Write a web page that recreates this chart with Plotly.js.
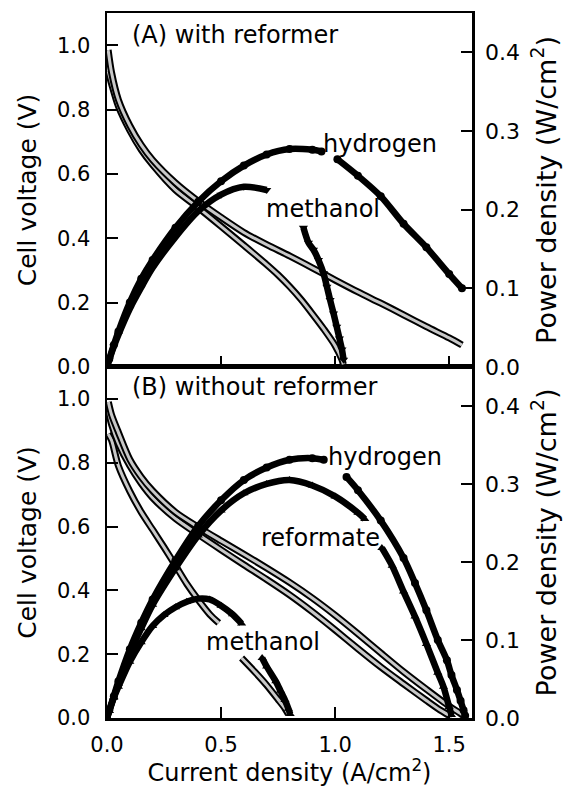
<!DOCTYPE html>
<html><head><meta charset="utf-8">
<script src="https://cdn.plot.ly/plotly-3.0.1.min.js"></script>
<style>html,body{margin:0;padding:0;background:#fff}#chart{width:574px;height:787px}</style>
</head><body><div id="chart"></div>
<script>
// ---------- Panel A: with reformer ----------
const A_h2_V_x = [0.005, 0.02, 0.05, 0.1, 0.15, 0.2, 0.3, 0.4, 0.5, 0.6, 0.7, 0.8, 0.9, 1.0, 1.1, 1.2, 1.3, 1.4, 1.5, 1.556];
const A_h2_V_y = [0.985, 0.915, 0.83, 0.75, 0.69, 0.643, 0.572, 0.515, 0.465, 0.418, 0.38, 0.345, 0.308, 0.27, 0.233, 0.198, 0.162, 0.125, 0.09, 0.068];

const A_me_V_x = [0.005, 0.02, 0.05, 0.1, 0.15, 0.2, 0.3, 0.4, 0.5, 0.6, 0.7, 0.75, 0.8, 0.85, 0.9, 0.95, 1.0, 1.03, 1.036];
const A_me_V_y = [0.92, 0.88, 0.81, 0.735, 0.675, 0.628, 0.55, 0.495, 0.437, 0.378, 0.318, 0.286, 0.25, 0.21, 0.165, 0.118, 0.066, 0.022, 0.008];

const A_h2_P_x = [0, 0.01, 0.03, 0.05, 0.1, 0.15, 0.2, 0.3, 0.4, 0.5, 0.6, 0.7, 0.8, 0.9, 0.94, null, 1.01, 1.1, 1.2, 1.3, 1.4, 1.5, 1.556];
const A_h2_P_y = [0, 0.01, 0.028, 0.045, 0.082, 0.112, 0.136, 0.177, 0.21, 0.236, 0.256, 0.27, 0.277, 0.276, 0.274, null, 0.264, 0.243, 0.217, 0.182, 0.152, 0.118, 0.10];

const A_me_P_x = [0, 0.01, 0.03, 0.05, 0.1, 0.15, 0.2, 0.3, 0.4, 0.5, 0.6, 0.7, null, 0.861, 0.883, 0.905, 0.927, 0.949, 0.964, 0.978, 0.993, 1.007, 1.019, 1.03, 1.037];
const A_me_P_y = [0, 0.009, 0.026, 0.041, 0.074, 0.101, 0.126, 0.165, 0.198, 0.219, 0.229, 0.225, null, 0.177, 0.158, 0.149, 0.136, 0.119, 0.102, 0.085, 0.068, 0.051, 0.036, 0.022, 0.009];

// ---------- Panel B: without reformer ----------
const B_h2_V_x = [0.006, 0.02, 0.05, 0.1, 0.15, 0.2, 0.3, 0.4, 0.5, 0.6, 0.7, 0.8, 0.9, 1.0, 1.1, 1.2, 1.3, 1.4, 1.5, 1.55, 1.57];
const B_h2_V_y = [0.99, 0.95, 0.895, 0.81, 0.755, 0.712, 0.645, 0.598, 0.555, 0.513, 0.47, 0.425, 0.376, 0.322, 0.264, 0.204, 0.145, 0.09, 0.037, 0.014, 0.003];

const B_rf_V_x = [0.006, 0.02, 0.05, 0.1, 0.15, 0.2, 0.3, 0.4, 0.5, 0.6, 0.7, 0.8, 0.9, 1.0, 1.1, 1.2, 1.3, 1.4, 1.46, 1.5, 1.51];
const B_rf_V_y = [0.96, 0.92, 0.86, 0.79, 0.735, 0.69, 0.625, 0.575, 0.527, 0.48, 0.434, 0.386, 0.333, 0.276, 0.217, 0.16, 0.107, 0.055, 0.025, 0.008, 0.003];

const B_me_V_x = [0.005, 0.02, 0.05, 0.1, 0.15, 0.2, 0.25, 0.3, 0.35, 0.4, 0.45, 0.49, null, 0.59, 0.65, 0.7, 0.75, 0.78, 0.795];
const B_me_V_y = [0.89, 0.87, 0.79, 0.71, 0.645, 0.59, 0.535, 0.478, 0.42, 0.37, 0.325, 0.298, null, 0.188, 0.143, 0.103, 0.058, 0.03, 0.012];

const B_h2_P_x = [0, 0.01, 0.03, 0.05, 0.1, 0.15, 0.2, 0.3, 0.4, 0.5, 0.6, 0.7, 0.8, 0.9, 0.95, null, 1.05, 1.1, 1.2, 1.3, 1.35, 1.4, 1.45, 1.49, 1.51, 1.534, 1.55, 1.563, 1.57];
const B_h2_P_y = [0, 0.01, 0.028, 0.047, 0.088, 0.122, 0.152, 0.202, 0.246, 0.279, 0.305, 0.321, 0.331, 0.333, 0.331, null, 0.309, 0.292, 0.253, 0.205, 0.173, 0.138, 0.10, 0.074, 0.055, 0.036, 0.022, 0.01, 0.003];

const B_rf_P_x = [0, 0.01, 0.03, 0.05, 0.1, 0.15, 0.2, 0.3, 0.4, 0.5, 0.6, 0.7, 0.8, 0.9, 1.0, 1.1, 1.13, null, 1.205, 1.25, 1.3, 1.35, 1.4, 1.45, 1.475, 1.5, 1.51];
const B_rf_P_y = [0, 0.009, 0.027, 0.044, 0.083, 0.115, 0.145, 0.192, 0.234, 0.266, 0.288, 0.30, 0.305, 0.298, 0.284, 0.263, 0.255, null, 0.218, 0.195, 0.162, 0.13, 0.095, 0.058, 0.04, 0.014, 0.004];

const B_me_P_x = [0, 0.01, 0.03, 0.05, 0.1, 0.15, 0.2, 0.25, 0.3, 0.35, 0.4, 0.45, 0.5, 0.55, 0.59, null, 0.68, 0.70, 0.74, 0.76, 0.78, 0.795, 0.803];
const B_me_P_y = [0, 0.009, 0.026, 0.04, 0.072, 0.097, 0.118, 0.132, 0.142, 0.149, 0.153, 0.152, 0.144, 0.133, 0.121, null, 0.077, 0.066, 0.047, 0.035, 0.023, 0.012, 0.005];

// ---------- Tick labels / text ----------
const voltTicks = [0, 0.2, 0.4, 0.6, 0.8, 1.0];
const powerTicks = [0, 0.1, 0.2, 0.3, 0.4];
const currentTicks = [0, 0.5, 1.0, 1.5];
const xTitle = 'Current density (A/cm<sup>2</sup>)';
const yTitle = 'Cell voltage (V)';
const y2Title = 'Power density (W/cm<sup>2</sup>)';

const traces = [];
function openCurve(x, y, xa, ya) {
  traces.push({x: x, y: y, xaxis: xa, yaxis: ya, mode: 'lines', line: {color: '#000', width: 7, shape: 'spline', smoothing: 0.8}, hoverinfo: 'skip', showlegend: false});
  traces.push({x: x, y: y, xaxis: xa, yaxis: ya, mode: 'lines', line: {color: '#c8c8c8', width: 3, shape: 'spline', smoothing: 0.8}, hoverinfo: 'skip', showlegend: false});
}
function filledCurve(x, y, xa, ya, sym) {
  traces.push({x: x, y: y, xaxis: xa, yaxis: ya, mode: 'lines+markers', line: {color: '#000', width: 6.5, shape: 'spline', smoothing: 0.8},
    marker: {symbol: sym, size: 8, color: '#000'}, hoverinfo: 'skip', showlegend: false});
}
// Panel A
openCurve(A_me_V_x, A_me_V_y, 'x2', 'y');
openCurve(A_h2_V_x, A_h2_V_y, 'x2', 'y');
filledCurve(A_me_P_x, A_me_P_y, 'x2', 'y2', 'triangle-down');
filledCurve(A_h2_P_x, A_h2_P_y, 'x2', 'y2', 'circle');
// Panel B
openCurve(B_me_V_x, B_me_V_y, 'x', 'y3');
openCurve(B_rf_V_x, B_rf_V_y, 'x', 'y3');
openCurve(B_h2_V_x, B_h2_V_y, 'x', 'y3');
filledCurve(B_me_P_x, B_me_P_y, 'x', 'y4', 'triangle-up');
filledCurve(B_rf_P_x, B_rf_P_y, 'x', 'y4', 'triangle-up');
filledCurve(B_h2_P_x, B_h2_P_y, 'x', 'y4', 'circle');

const ax = {showline: true, linecolor: '#000', linewidth: 2.5, ticks: 'inside', ticklen: 11, tickwidth: 2, tickcolor: '#000',
  showgrid: false, zeroline: false, fixedrange: true, tickfont: {size: 21}};
const f = 'DejaVu Sans, sans-serif';
const layout = {
  width: 574, height: 787,
  margin: {l: 107, r: 102, t: 13, b: 69},
  paper_bgcolor: '#fff', plot_bgcolor: '#fff',
  font: {family: f, color: '#000', size: 21},
  showlegend: false,
  xaxis: Object.assign({}, ax, {domain: [0, 1], anchor: 'y3', range: [0, 1.6], tickvals: currentTicks, tickformat: '.1f', mirror: true,
    ticklabelstandoff: 6, title: {text: xTitle, font: {size: 24}, standoff: 4}}),
  xaxis2: Object.assign({}, ax, {domain: [0, 1], anchor: 'y', range: [0, 1.6], tickvals: [0.5, 1.0, 1.5], showticklabels: false, mirror: true}),
  yaxis: Object.assign({}, ax, {domain: [0.498, 1], anchor: 'x2', range: [0, 1.1], tickvals: voltTicks, tickformat: '.1f',
    ticklabelstandoff: 10, title: {text: yTitle, font: {size: 25}, standoff: 13}}),
  yaxis2: Object.assign({}, ax, {overlaying: 'y', side: 'right', anchor: 'x2', range: [0, 0.45], tickvals: powerTicks, tickformat: '.1f',
    ticklabelstandoff: 6, tickfont: {size: 22}, title: {text: y2Title, font: {size: 27}, standoff: 18}}),
  yaxis3: Object.assign({}, ax, {domain: [0, 0.498], anchor: 'x', range: [0, 1.1], tickvals: voltTicks, tickformat: '.1f',
    ticklabelstandoff: 10, title: {text: yTitle, font: {size: 25}, standoff: 13}}),
  yaxis4: Object.assign({}, ax, {overlaying: 'y3', side: 'right', anchor: 'x', range: [0, 0.45], tickvals: powerTicks, tickformat: '.1f',
    ticklabelstandoff: 6, tickfont: {size: 22}, title: {text: y2Title, font: {size: 27}, standoff: 18}}),
  annotations: [
    {text: '(A) with reformer', xref: 'x2', yref: 'y', x: 0.10, y: 1.033, xanchor: 'left', yanchor: 'middle', showarrow: false, font: {size: 24}},
    {text: 'hydrogen', xref: 'x2', yref: 'y2', x: 1.197, y: 0.283, xanchor: 'center', yanchor: 'middle', showarrow: false, font: {size: 24}},
    {text: 'methanol', xref: 'x2', yref: 'y', x: 0.945, y: 0.492, xanchor: 'center', yanchor: 'middle', showarrow: false, font: {size: 24}},
    {text: '(B) without reformer', xref: 'x', yref: 'y3', x: 0.10, y: 1.036, xanchor: 'left', yanchor: 'middle', showarrow: false, font: {size: 24}},
    {text: 'hydrogen', xref: 'x', yref: 'y4', x: 1.219, y: 0.335, xanchor: 'center', yanchor: 'middle', showarrow: false, font: {size: 24}},
    {text: 'reformate', xref: 'x', yref: 'y3', x: 0.934, y: 0.564, xanchor: 'center', yanchor: 'middle', showarrow: false, font: {size: 24}},
    {text: 'methanol', xref: 'x', yref: 'y3', x: 0.686, y: 0.239, xanchor: 'center', yanchor: 'middle', showarrow: false, font: {size: 24}}
  ]
};
Plotly.newPlot('chart', traces, layout, {staticPlot: true, displayModeBar: false});
</script>
</body></html>
